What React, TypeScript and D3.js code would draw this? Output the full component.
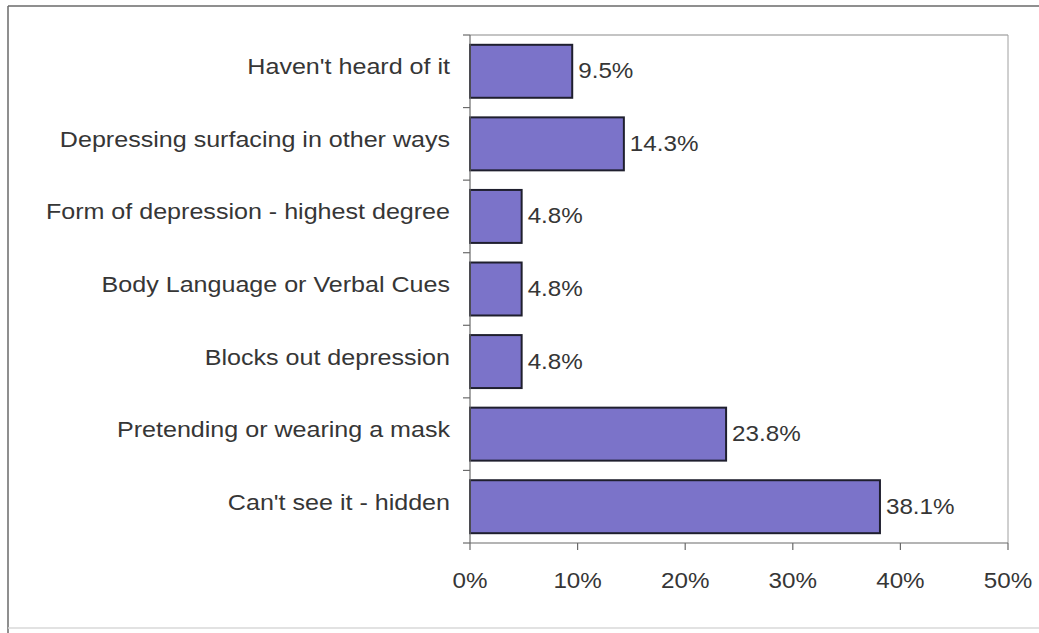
import * as d3 from "d3";

const categories = [
  "Haven't heard of it",
  "Depressing surfacing in other ways",
  "Form of depression - highest degree",
  "Body Language or Verbal Cues",
  "Blocks out depression",
  "Pretending or wearing a mask",
  "Can't see it - hidden",
];
const values = [9.5, 14.3, 4.8, 4.8, 4.8, 23.8, 38.1];
const xTicks = [0, 10, 20, 30, 40, 50];

const W = 1039;
const H = 633;
const plot = { left: 470, right: 1008, top: 35, bottom: 543 };
const font = "'Liberation Sans', Arial, sans-serif";
const textColor = "#363636";

const App = () => {
  const x = d3.scaleLinear().domain([0, 50]).range([plot.left, plot.right]);
  const y = d3
    .scaleBand<string>()
    .domain(categories)
    .range([plot.top, plot.bottom])
    .paddingInner(0.27)
    .paddingOuter(0.135);
  const step = y.step();
  const bandEdges = d3.range(categories.length + 1).map((i) => plot.top + i * step);

  // the scanned text is a little wider than the font's own glyphs
  const stretch = (tx: number, ty: number, s = 1.1) => `translate(${tx},${ty}) scale(${s},1)`;

  return (
    <svg
      width={W}
      height={H}
      style={{ position: "absolute", left: 0, top: 0, background: "#fff" }}
    >
      {/* outer frame */}
      <line x1={8} y1={6} x2={W} y2={6} stroke="#6a6a6a" strokeWidth={1.5} />
      <line x1={8} y1={6} x2={8} y2={H} stroke="#6a6a6a" strokeWidth={1.5} />
      <line x1={8} y1={628} x2={W} y2={628} stroke="#d9d9d9" strokeWidth={1.5} />

      {/* plot area border */}
      <line x1={plot.left} y1={plot.top} x2={plot.right} y2={plot.top} stroke="#8a8a8a" strokeWidth={1.2} />
      <line x1={plot.right} y1={plot.top} x2={plot.right} y2={plot.bottom} stroke="#a0a0a0" strokeWidth={1} />

      {/* bars */}
      {categories.map((c, i) => (
        <rect
          key={c}
          x={x(0)}
          y={y(c)}
          width={x(values[i]) - x(0)}
          height={y.bandwidth()}
          fill="#7b73c9"
          stroke="#1f1f2e"
          strokeWidth={2}
        />
      ))}

      {/* axes */}
      <line x1={plot.left} y1={plot.top} x2={plot.left} y2={plot.bottom} stroke="#6a6a6a" strokeWidth={1.2} />
      <line x1={plot.left} y1={plot.bottom} x2={plot.right} y2={plot.bottom} stroke="#6a6a6a" strokeWidth={1.2} />
      {bandEdges.map((yy, i) => (
        <line key={"yt" + i} x1={plot.left - 7} y1={yy} x2={plot.left} y2={yy} stroke="#6a6a6a" strokeWidth={1.2} />
      ))}
      {xTicks.map((t) => (
        <line key={"xt" + t} x1={x(t)} y1={plot.bottom} x2={x(t)} y2={plot.bottom + 7} stroke="#6a6a6a" strokeWidth={1.2} />
      ))}

      {/* category labels */}
      {categories.map((c) => (
        <text
          key={"l" + c}
          transform={stretch(plot.left - 20, (y(c) as number) + y.bandwidth() / 2 + 3, 1.14)}
          textAnchor="end"
          fontFamily={font}
          fontSize={22}
          fill={textColor}
        >
          {c}
        </text>
      ))}

      {/* value labels */}
      {categories.map((c, i) => (
        <text
          key={"v" + c}
          transform={stretch(x(values[i]) + 6, (y(c) as number) + y.bandwidth() / 2 + 7)}
          fontFamily={font}
          fontSize={22}
          fill={textColor}
        >
          {values[i].toFixed(1) + "%"}
        </text>
      ))}

      {/* x tick labels */}
      {xTicks.map((t) => (
        <text
          key={"xl" + t}
          transform={stretch(x(t), 588)}
          textAnchor="middle"
          fontFamily={font}
          fontSize={22}
          fill={textColor}
        >
          {t + "%"}
        </text>
      ))}
    </svg>
  );
};

export default App;
